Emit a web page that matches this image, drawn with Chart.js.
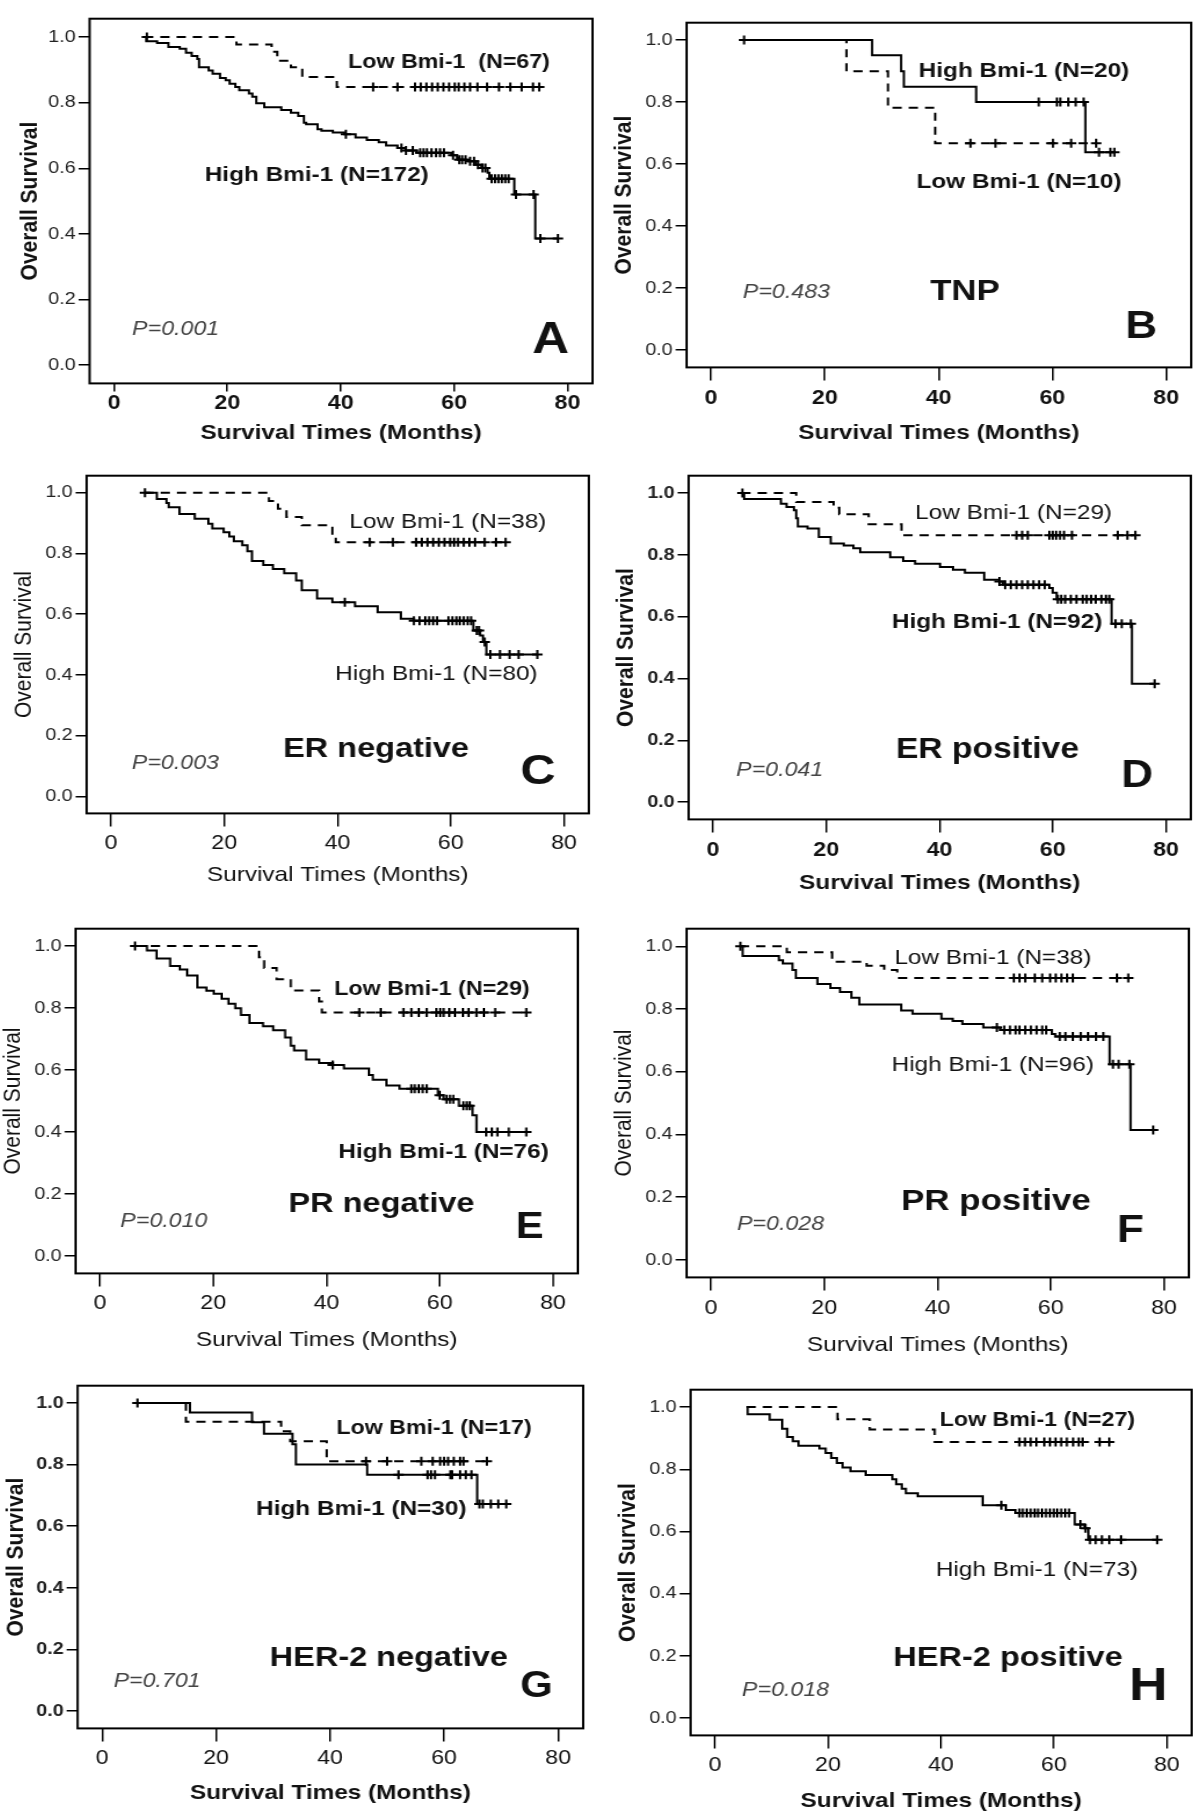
<!DOCTYPE html>
<html>
<head>
<meta charset="utf-8">
<script src="https://cdn.jsdelivr.net/npm/chart.js@4.4.1/dist/chart.umd.min.js"></script>
<style>
  body { margin: 0; background: #fff; width: 1200px; height: 1819px; position: relative; overflow: hidden; }
  canvas { position: absolute; transform-origin: 0 0; }
</style>
</head>
<body>
<canvas id="cA"></canvas><canvas id="cB"></canvas>
<canvas id="cC"></canvas><canvas id="cD"></canvas>
<canvas id="cE"></canvas><canvas id="cF"></canvas>
<canvas id="cG"></canvas><canvas id="cH"></canvas>
<script>
// --- axis ticks ---
const xTicks = [0, 20, 40, 60, 80];
const yTicks = [0, 0.2, 0.4, 0.6, 0.8, 1.0];

// --- KM steps: [month, survival after the step], censored months ---
// A: all patients
const aHigh = [[5.3,1.0],[5.7,0.987],[7.6,0.982],[9.6,0.970],[11.6,0.964],[12.7,0.952],[13.7,0.942],[14.7,0.933],[15.0,0.908],[16.7,0.898],[17.4,0.888],[18.7,0.875],[19.7,0.868],[20.4,0.858],[21.4,0.848],[22.1,0.838],[23.8,0.828],[24.4,0.818],[25.1,0.798],[26.5,0.786],[29.5,0.778],[31.2,0.769],[32.5,0.759],[33.5,0.739],[33.9,0.734],[35.9,0.719],[36.6,0.714],[38.6,0.709],[40.6,0.704],[42.6,0.694],[44.6,0.686],[46.7,0.679],[48.0,0.669],[50.0,0.662],[51.4,0.654],[53.4,0.647],[59.5,0.640],[60.5,0.631],[60.8,0.626],[62.5,0.621],[63.8,0.611],[64.8,0.601],[65.9,0.586],[66.2,0.568],[70.6,0.520],[74.3,0.386]];
const aHighCens = [40.9,50.7,51.5,52.7,54.0,54.6,55.2,56.0,56.8,57.5,58.2,59.8,60.9,61.4,62.0,62.8,63.5,64.2,65.0,65.5,66.6,67.2,67.8,68.4,69.0,69.6,70.9,74.0,75.2,78.3];
const aLow = [[5.3,1.0],[21.6,0.977],[27.8,0.955],[28.8,0.928],[31.2,0.908],[33.2,0.878],[39.3,0.848]];
const aLowCens = [5.8,45.7,50.0,53.1,54.1,55.1,56.1,57.1,58.1,59.1,60.1,60.8,61.8,62.8,64.1,65.8,67.9,69.9,71.9,73.9,75.0];

// B: TNP
const bHigh = [[5.7,1.0],[28.3,0.951],[33.4,0.899],[33.9,0.849],[46.6,0.800],[65.8,0.638]];
const bHighCens = [57.6,60.8,61.4,62.8,64.1,65.5,68.2,70.2,70.9];
const bLow = [[5.7,1.0],[23.8,0.899],[31.1,0.782],[39.4,0.667]];
const bLowCens = [5.8,45.6,50.0,60.1,63.3,67.7];

// C: ER negative
const cHigh = [[5.9,1.0],[8.1,0.979],[9.8,0.966],[10.2,0.952],[12.1,0.930],[14.8,0.914],[17.2,0.898],[17.9,0.882],[19.9,0.870],[20.9,0.856],[21.7,0.840],[23.2,0.827],[24.1,0.807],[24.9,0.775],[26.9,0.762],[28.6,0.749],[30.6,0.735],[32.7,0.711],[33.7,0.679],[36.4,0.652],[39.1,0.639],[43.1,0.626],[47.1,0.606],[51.2,0.585],[53.5,0.578],[64.0,0.546],[65.2,0.530],[65.7,0.508],[66.3,0.467]];
const cHighCens = [41.3,53.5,54.5,55.5,56.2,56.9,57.6,59.6,60.3,61.0,61.6,62.3,63.0,63.6,64.6,65.0,66.0,67.0,68.7,70.4,72.0,75.3];
const cLow = [[5.9,1.0],[27.9,0.973],[29.5,0.947],[31.0,0.920],[33.7,0.893],[39.1,0.861],[39.7,0.837]];
const cLowCens = [6.0,45.7,49.8,53.9,54.9,55.9,56.9,57.9,58.9,59.9,60.6,61.3,62.3,63.3,64.3,66.0,68.0,69.7];

// D: ER positive
const dHigh = [[5.0,1.0],[5.5,0.981],[12.0,0.965],[13.0,0.955],[14.3,0.944],[14.7,0.918],[15.0,0.892],[16.7,0.885],[18.7,0.858],[20.8,0.837],[23.1,0.830],[24.8,0.821],[26.0,0.808],[31.3,0.792],[33.6,0.780],[35.7,0.771],[40.1,0.761],[42.4,0.752],[44.5,0.742],[47.9,0.719],[50.6,0.714],[51.2,0.703],[59.4,0.693],[60.0,0.677],[60.7,0.656],[70.4,0.577],[74.0,0.383]];
const dHighCens = [50.6,51.6,52.6,53.6,54.6,55.6,56.6,57.6,58.6,60.9,61.5,62.2,63.2,64.2,65.3,66.0,66.8,67.6,68.6,69.4,70.0,71.1,72.2,73.8,78.0];
const dLow = [[5.0,1.0],[14.7,0.971],[21.3,0.952],[22.3,0.931],[27.5,0.899],[33.3,0.863]];
const dLowCens = [5.2,53.6,54.6,55.6,59.4,60.0,60.6,61.3,62.0,63.4,71.5,73.2,74.6];

// E: PR negative
const eHigh = [[6.1,1.0],[8.3,0.986],[10.0,0.960],[12.4,0.936],[14.1,0.924],[15.4,0.905],[17.2,0.866],[18.8,0.856],[20.1,0.846],[21.5,0.830],[22.7,0.814],[23.9,0.799],[24.9,0.778],[26.4,0.752],[28.8,0.741],[30.6,0.728],[32.7,0.705],[33.7,0.678],[34.3,0.663],[36.4,0.634],[38.7,0.623],[41.1,0.616],[43.1,0.605],[47.5,0.584],[48.2,0.569],[50.6,0.550],[52.9,0.540],[59.7,0.519],[60.7,0.506],[63.4,0.485],[65.8,0.454],[66.5,0.400]];
const eHighCens = [41.1,55.0,55.6,56.3,57.0,57.7,60.0,61.2,61.8,62.4,64.2,64.8,65.3,68.2,69.2,70.2,72.2,75.3];
const eLow = [[6.1,1.0],[28.1,0.964],[29.0,0.929],[31.2,0.893],[33.7,0.857],[38.7,0.821],[39.2,0.786]];
const eLowCens = [6.2,45.8,49.6,53.6,55.0,56.3,57.7,59.4,60.1,60.7,61.7,62.7,64.1,65.1,66.5,67.8,69.8,75.3];

// F: PR positive
const fHigh = [[5.1,1.0],[5.6,0.969],[12.0,0.955],[12.7,0.945],[14.4,0.924],[15.0,0.899],[18.8,0.880],[21.1,0.867],[22.8,0.854],[24.8,0.836],[26.2,0.814],[33.6,0.795],[35.6,0.785],[40.7,0.769],[42.7,0.762],[44.4,0.752],[48.1,0.741],[51.1,0.733],[60.2,0.720],[60.8,0.712],[70.4,0.624],[74.1,0.414]];
const fHighCens = [50.5,51.8,52.8,53.8,54.5,55.5,56.5,57.5,58.5,59.2,61.6,62.6,63.9,65.3,66.6,68.0,69.3,71.0,72.0,73.9,78.1];
const fLow = [[5.1,1.0],[13.4,0.981],[21.4,0.951],[27.5,0.938],[30.6,0.924],[32.9,0.899]];
const fLowCens = [5.2,53.5,54.5,55.5,57.2,58.5,59.9,60.9,61.9,62.9,63.9,71.7,73.7];

// G: HER-2 negative
const gHigh = [[6.1,1.0],[15.4,0.969],[26.3,0.937],[28.4,0.900],[33.4,0.866],[34.0,0.800],[46.5,0.767],[65.8,0.672]];
const gHighCens = [52.0,57.1,57.7,58.4,61.1,61.4,62.8,63.8,64.8,66.2,66.8,68.2,69.5,70.9];
const gLow = [[6.1,1.0],[14.7,0.939],[31.4,0.908],[33.0,0.876],[39.4,0.811]];
const gLowCens = [6.2,46.3,50.0,56.0,58.0,59.3,60.0,60.7,61.7,62.8,63.4,67.5];

// H: HER-2 positive
const hHigh = [[5.6,1.0],[5.8,0.977],[9.7,0.959],[11.9,0.930],[12.8,0.904],[13.8,0.890],[14.8,0.876],[18.5,0.867],[19.6,0.852],[20.6,0.836],[21.6,0.820],[22.6,0.806],[24.0,0.794],[26.7,0.782],[31.4,0.768],[32.1,0.752],[33.1,0.737],[33.8,0.723],[35.9,0.713],[47.4,0.684],[51.5,0.669],[53.2,0.659],[63.7,0.622],[65.4,0.610],[66.1,0.573]];
const hHighCens = [50.7,53.9,54.5,55.2,55.9,56.6,57.2,57.9,58.6,59.3,60.0,60.6,61.3,62.0,62.7,64.7,65.6,66.4,67.4,68.5,69.8,71.9,78.3];
const hLow = [[5.6,1.0],[21.7,0.961],[27.4,0.928],[38.9,0.888]];
const hLowCens = [53.9,54.9,55.9,56.9,58.3,59.3,60.3,61.3,62.3,63.4,64.4,65.1,68.1,69.8];

// --- layout ---
const FONT = '"Liberation Sans", Arial, sans-serif';
const X_MIN = -4.3, X_MAX = 84.4;
const Y_MIN = -0.056, Y_MAX = 1.056;
const STRETCH = 1.16;   // the source figure is widened horizontally

function levelAt(steps, t) {
    let v = steps[0][1];
    for (const [s, val] of steps) if (s <= t) v = val;
    return v;
}

function curvePoints(steps, cens) {
    const pts = steps.map(([x, y]) => ({ x, y }));
    const endT = Math.max(steps[steps.length - 1][0], ...cens);
    pts.push({ x: endT, y: levelAt(steps, endT) });
    return pts;
}

function censorPoints(steps, cens) {
    return cens.map(t => ({ x: t, y: levelAt(steps, t) }));
}

function notesPlugin(notes) {
    return {
        id: 'notes',
        afterDatasetsDraw(chart) {
            const { ctx, chartArea: a, scales: { x, y } } = chart;
            ctx.save();
            ctx.strokeStyle = '#000';
            ctx.lineWidth = 2;
            ctx.strokeRect(a.left, a.top, a.right - a.left, a.bottom - a.top);
            notes.forEach(n => {
                ctx.font = `${n.style || 'normal'} ${n.weight || 'normal'} ${n.size}px ${FONT}`;
                ctx.fillStyle = n.color || '#111';
                ctx.textAlign = n.align || 'left';
                ctx.textBaseline = 'middle';
                ctx.fillText(n.text, x.getPixelForValue(n.x), y.getPixelForValue(n.y));
            });
            ctx.restore();
        }
    };
}

// frame: [left, top, right, bottom] of the plot box on the page
const panels = [
    { id: 'cA', frame: [90, 8, 593, 383], yOff: 59, xOff: 50, xTick: 8, xPad: 0, xw: 'bold', yw: 'normal', tw: 'bold',
      high: aHigh, highCens: aHighCens, low: aLow, lowCens: aLowCens,
      notes: [
        { text: 'Low Bmi-1  (N=67)', x: 41.3, y: 0.923, size: 20, weight: 'bold' },
        { text: 'High Bmi-1 (N=172)', x: 16.0, y: 0.580, size: 21, weight: 'bold' },
        { text: 'P=0.001', x: 3.2, y: 0.109, size: 20, style: 'italic', color: '#444' },
        { text: 'A', x: 77.0, y: 0.074, size: 44, weight: 'bold', align: 'center' }
      ] },
    { id: 'cB', frame: [687, 12, 1191, 367], yOff: 62, xOff: 66, xTick: 13, xPad: 6, xw: 'bold', yw: 'normal', tw: 'bold',
      high: bHigh, highCens: bHighCens, low: bLow, lowCens: bLowCens,
      notes: [
        { text: 'High Bmi-1 (N=20)', x: 36.5, y: 0.899, size: 21, weight: 'bold' },
        { text: 'Low Bmi-1 (N=10)', x: 36.1, y: 0.541, size: 21, weight: 'bold' },
        { text: 'P=0.483', x: 5.6, y: 0.187, size: 20, style: 'italic', color: '#444' },
        { text: 'TNP', x: 38.5, y: 0.187, size: 30, weight: 'bold' },
        { text: 'B', x: 75.6, y: 0.073, size: 38, weight: 'bold', align: 'center' }
      ] },
    { id: 'cC', frame: [87, 465, 589, 813], yOff: 62, xOff: 62, xTick: 13, xPad: 5, xw: 'normal', yw: 'normal', tw: 'normal',
      high: cHigh, highCens: cHighCens, low: cLow, lowCens: cLowCens,
      notes: [
        { text: 'Low Bmi-1 (N=38)', x: 42.1, y: 0.904, size: 21 },
        { text: 'High Bmi-1 (N=80)', x: 39.6, y: 0.401, size: 21 },
        { text: 'P=0.003', x: 3.7, y: 0.107, size: 20, style: 'italic', color: '#444' },
        { text: 'ER negative', x: 30.4, y: 0.155, size: 28, weight: 'bold' },
        { text: 'C', x: 75.4, y: 0.080, size: 42, weight: 'bold', align: 'center' }
      ] },
    { id: 'cD', frame: [689, 465, 1191, 819], yOff: 62, xOff: 64, xTick: 13, xPad: 6, xw: 'bold', yw: 'bold', tw: 'bold',
      high: dHigh, highCens: dHighCens, low: dLow, lowCens: dLowCens,
      notes: [
        { text: 'Low Bmi-1 (N=29)', x: 35.7, y: 0.934, size: 21 },
        { text: 'High Bmi-1 (N=92)', x: 31.6, y: 0.582, size: 21, weight: 'bold' },
        { text: 'P=0.041', x: 4.1, y: 0.102, size: 20, style: 'italic', color: '#444' },
        { text: 'ER positive', x: 32.3, y: 0.170, size: 29, weight: 'bold' },
        { text: 'D', x: 74.9, y: 0.084, size: 38, weight: 'bold', align: 'center' }
      ] },
    { id: 'cE', frame: [76, 918, 578, 1273], yOff: 62, xOff: 67, xTick: 13, xPad: 5, xw: 'normal', yw: 'normal', tw: 'normal',
      high: eHigh, highCens: eHighCens, low: eLow, lowCens: eLowCens,
      notes: [
        { text: 'Low Bmi-1 (N=29)', x: 41.4, y: 0.859, size: 20, weight: 'bold' },
        { text: 'High Bmi-1 (N=76)', x: 42.1, y: 0.334, size: 21, weight: 'bold' },
        { text: 'P=0.010', x: 3.6, y: 0.112, size: 20, style: 'italic', color: '#444' },
        { text: 'PR negative', x: 33.3, y: 0.167, size: 28, weight: 'bold' },
        { text: 'E', x: 75.9, y: 0.089, size: 36, weight: 'bold', align: 'center' }
      ] },
    { id: 'cF', frame: [687, 918, 1189, 1277], yOff: 62, xOff: 68, xTick: 13, xPad: 6, xw: 'normal', yw: 'normal', tw: 'normal',
      high: fHigh, highCens: fHighCens, low: fLow, lowCens: fLowCens,
      notes: [
        { text: 'Low Bmi-1 (N=38)', x: 32.4, y: 0.963, size: 21 },
        { text: 'High Bmi-1 (N=96)', x: 31.9, y: 0.621, size: 21 },
        { text: 'P=0.028', x: 4.6, y: 0.114, size: 20, style: 'italic', color: '#444' },
        { text: 'PR positive', x: 33.6, y: 0.184, size: 30, weight: 'bold' },
        { text: 'F', x: 74.1, y: 0.091, size: 38, weight: 'bold', align: 'center' }
      ] },
    { id: 'cG', frame: [78, 1375, 583, 1728], yOff: 61, xOff: 65, xTick: 13, xPad: 5, xw: 'normal', yw: 'bold', tw: 'bold',
      high: gHigh, highCens: gHighCens, low: gLow, lowCens: gLowCens,
      notes: [
        { text: 'Low Bmi-1 (N=17)', x: 41.1, y: 0.916, size: 20, weight: 'bold' },
        { text: 'High Bmi-1 (N=30)', x: 27.0, y: 0.654, size: 21, weight: 'bold' },
        { text: 'P=0.701', x: 2.0, y: 0.098, size: 20, style: 'italic', color: '#444' },
        { text: 'HER-2 negative', x: 29.4, y: 0.173, size: 28, weight: 'bold' },
        { text: 'G', x: 76.2, y: 0.077, size: 36, weight: 'bold', align: 'center' }
      ] },
    { id: 'cH', frame: [691, 1379, 1192, 1735], yOff: 62, xOff: 66, xTick: 13, xPad: 5, xw: 'normal', yw: 'normal', tw: 'bold',
      high: hHigh, highCens: hHighCens, low: hLow, lowCens: hLowCens,
      notes: [
        { text: 'Low Bmi-1 (N=27)', x: 39.8, y: 0.956, size: 20, weight: 'bold' },
        { text: 'High Bmi-1 (N=73)', x: 39.1, y: 0.475, size: 21 },
        { text: 'P=0.018', x: 4.8, y: 0.089, size: 20, style: 'italic', color: '#444' },
        { text: 'HER-2 positive', x: 31.6, y: 0.193, size: 28, weight: 'bold' },
        { text: 'H', x: 76.7, y: 0.099, size: 46, weight: 'bold', align: 'center' }
      ] }
];

function drawPanel(p) {
    const [fl, ft, fr, fb] = p.frame;
    const fw = (fr - fl) / STRETCH;
    const fh = fb - ft;
    const yAxisW = p.yOff / STRETCH + 12.6;
    const xAxisH = p.xOff + 12.6 + 2;
    const canvas = document.getElementById(p.id);
    canvas.width = Math.round(yAxisW + fw + 2);
    canvas.height = Math.round(2 + fh + xAxisH);
    canvas.style.left = (fl - yAxisW * STRETCH) + 'px';
    canvas.style.top = (ft - 2) + 'px';
    canvas.style.transform = `scaleX(${STRETCH})`;

    const censStyle = { showLine: false, pointStyle: 'cross', pointRadius: 4.5, pointBorderColor: '#000', pointBorderWidth: 2 };

    new Chart(canvas.getContext('2d'), {
        type: 'line',
        data: {
            datasets: [
                { data: curvePoints(p.high, p.highCens), stepped: 'before', borderColor: '#000', borderWidth: 2, pointRadius: 0, fill: false },
                { data: censorPoints(p.high, p.highCens), ...censStyle },
                { data: curvePoints(p.low, p.lowCens), stepped: 'before', borderColor: '#000', borderWidth: 2, borderDash: [8, 6], pointRadius: 0, fill: false },
                { data: censorPoints(p.low, p.lowCens), ...censStyle }
            ]
        },
        options: {
            responsive: false,
            devicePixelRatio: 1,
            animation: false,
            events: [],
            layout: { autoPadding: false, padding: { top: 2, right: 2, left: 0, bottom: 0 } },
            plugins: { legend: { display: false }, tooltip: { enabled: false } },
            scales: {
                x: {
                    type: 'linear', min: X_MIN, max: X_MAX,
                    afterBuildTicks: s => { s.ticks = xTicks.map(v => ({ value: v })); },
                    afterFit: s => { s.height = xAxisH; },
                    grid: { drawOnChartArea: false, drawTicks: true, tickLength: p.xTick, color: '#000', lineWidth: 1.5 },
                    border: { display: false },
                    ticks: { autoSkip: false, maxRotation: 0, padding: p.xPad, color: '#111',
                             font: { family: FONT, size: 20, weight: p.xw }, callback: v => String(v) },
                    title: { display: true, text: 'Survival Times (Months)', color: '#111',
                             font: { family: FONT, size: 21, weight: p.tw }, padding: { top: 0, bottom: 2 } }
                },
                y: {
                    type: 'linear', min: Y_MIN, max: Y_MAX,
                    afterBuildTicks: s => { s.ticks = yTicks.map(v => ({ value: v })); },
                    afterFit: s => { s.width = yAxisW; },
                    grid: { drawOnChartArea: false, drawTicks: true, tickLength: 9.5, color: '#000', lineWidth: 1.5 },
                    border: { display: false },
                    ticks: { autoSkip: false, padding: 2.5, color: '#222',
                             font: { family: FONT, size: 17, weight: p.yw }, callback: v => v.toFixed(1) },
                    title: { display: true, text: 'Overall Survival', color: '#111',
                             font: { family: FONT, size: 21, weight: p.tw }, padding: { top: 0, bottom: 0 } }
                }
            }
        },
        plugins: [notesPlugin(p.notes)]
    });
}

panels.forEach(drawPanel);
</script>
</body>
</html>
